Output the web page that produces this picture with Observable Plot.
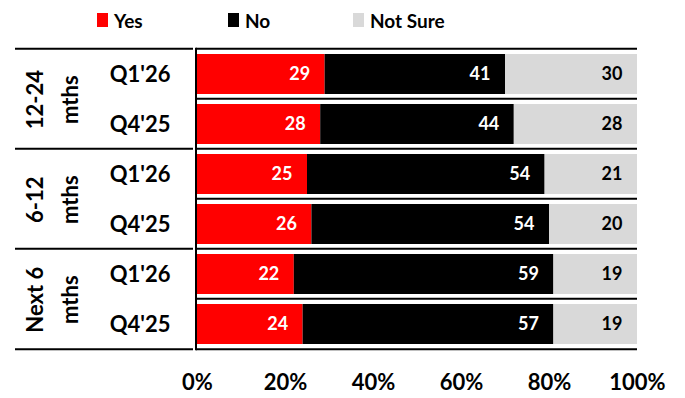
<!DOCTYPE html>
<html>
<head>
<meta charset="utf-8">
<script src="https://cdn.jsdelivr.net/npm/d3@7"></script>
<script src="https://cdn.jsdelivr.net/npm/@observablehq/plot@0.6"></script>
<style>
  html, body { margin: 0; padding: 0; background: #fff; }
  #wrap { width: 685px; font-family: Lato, "Open Sans", sans-serif; font-weight: 700; }
  #legend { position: relative; height: 40px; font-size: 19px; color: #000; }
  .item { position: absolute; top: 8px; display: flex; align-items: center; height: 24px; }
  .sw { display: inline-block; width: 11px; height: 14px; margin-right: 6px; }
</style>
</head>
<body>
<div id="wrap">
  <div id="legend"></div>
  <div id="chart"></div>
</div>
<script>
// ---- data ----
const categories = ["Yes", "No", "Not Sure"];
const colors = ["#ff0000", "#000000", "#d9d9d9"];
const groups = ["12-24\nmths", "6-12\nmths", "Next 6\nmths"];
const quarters = ["Q1'26", "Q4'25"];
const yesValues = [29, 28, 25, 26, 22, 24];
const noValues = [41, 44, 54, 54, 59, 57];
const notSureValues = [30, 28, 21, 20, 19, 19];
const xTicks = [0, 20, 40, 60, 80, 100];

// ---- build table ----
const rows = [];
groups.forEach((g, gi) => quarters.forEach((q, qi) => rows.push({key: gi + "|" + q, group: g, quarter: q, first: qi === 0})));
const rowKeys = rows.map(r => r.key);
const seriesValues = [yesValues, noValues, notSureValues];
const data = [];
rows.forEach((r, i) => categories.forEach((c, ci) => data.push({row: r.key, cat: c, value: seriesValues[ci][i]})));
const groupRows = rows.filter(r => r.first);

// ---- legend ----
const legendLeft = [97, 228, 353];
const legend = document.getElementById("legend");
categories.forEach((c, i) => {
  const it = document.createElement("div");
  it.className = "item";
  it.style.left = legendLeft[i] + "px";
  it.innerHTML = `<span class="sw" style="background:${colors[i]}"></span><span>${c}</span>`;
  legend.appendChild(it);
});

// ---- layout ----
const W = 685, H = 358, mT = 8, mB = 48, mL = 197, mR = 48;
const PADI = 0.21;
const step = (H - mT - mB) / rowKeys.length;

function structure(index, scales, values, dims) {
  const y = scales.y;
  const ml = dims.marginLeft, mr = dims.marginRight, w = dims.width;
  const bw = y.bandwidth ? y.bandwidth() : step * (1 - PADI);
  const top = k => y(k) + bw / 2 - step / 2;
  const g = d3.create("svg:g").attr("stroke", "#000").attr("stroke-width", 2).attr("fill", "none");
  const ys = rowKeys.map(top).concat([top(rowKeys[rowKeys.length - 1]) + step]);
  ys.forEach(yy => g.append("line").attr("x1", ml - 1).attr("x2", w - mr).attr("y1", yy).attr("y2", yy));
  const gys = groupRows.map(r => top(r.key)).concat([ys[ys.length - 1]]);
  gys.forEach(yy => g.append("line").attr("x1", 15).attr("x2", ml - 4).attr("y1", yy).attr("y2", yy));
  g.append("line").attr("x1", ml - 1).attr("x2", ml - 1).attr("y1", ys[0] - 1).attr("y2", ys[ys.length - 1] + 1);
  return g.node();
}

const chart = Plot.plot({
  width: W, height: H,
  marginTop: mT, marginBottom: mB, marginLeft: mL, marginRight: mR,
  style: {fontFamily: "Lato, 'Open Sans', sans-serif", fontWeight: "bold", fontSize: "22px", color: "#000", background: "#fff", overflow: "visible"},
  x: {domain: [0, 100], ticks: xTicks, tickFormat: d => d + "%", tickSize: 0, tickPadding: 24, label: null},
  y: {domain: rowKeys, paddingInner: PADI, paddingOuter: PADI / 2, axis: null},
  color: {domain: categories, range: colors},
  marks: [
    Plot.barX(data, Plot.stackX({x: "value", y: "row", fill: "cat", order: categories})),
    structure,
    Plot.text(data, Plot.stackX2({x: "value", y: "row", z: "cat", order: categories,
      text: d => d.cat !== "Not Sure" ? String(d.value) : null,
      fill: "white", textAnchor: "end", dx: -15, fontSize: 18, fontWeight: "bold"})),
    Plot.text(data, Plot.stackX2({x: "value", y: "row", z: "cat", order: categories,
      text: d => d.cat === "Not Sure" ? String(d.value) : null,
      fill: "black", textAnchor: "end", dx: -15, fontSize: 18, fontWeight: "bold"})),
    Plot.text(rows, {y: "key", text: "quarter", frameAnchor: "left", dx: -27, textAnchor: "end", fontSize: 22, fontWeight: "bold", fill: "black"}),
    Plot.text(groupRows, {y: "key", text: "group", frameAnchor: "left", dx: -148, dy: step / 2, rotate: -90, lineHeight: 1.6, textAnchor: "middle", fontSize: 22, fontWeight: "bold", fill: "black"})
  ]
});
document.getElementById("chart").appendChild(chart);
</script>
</body>
</html>
